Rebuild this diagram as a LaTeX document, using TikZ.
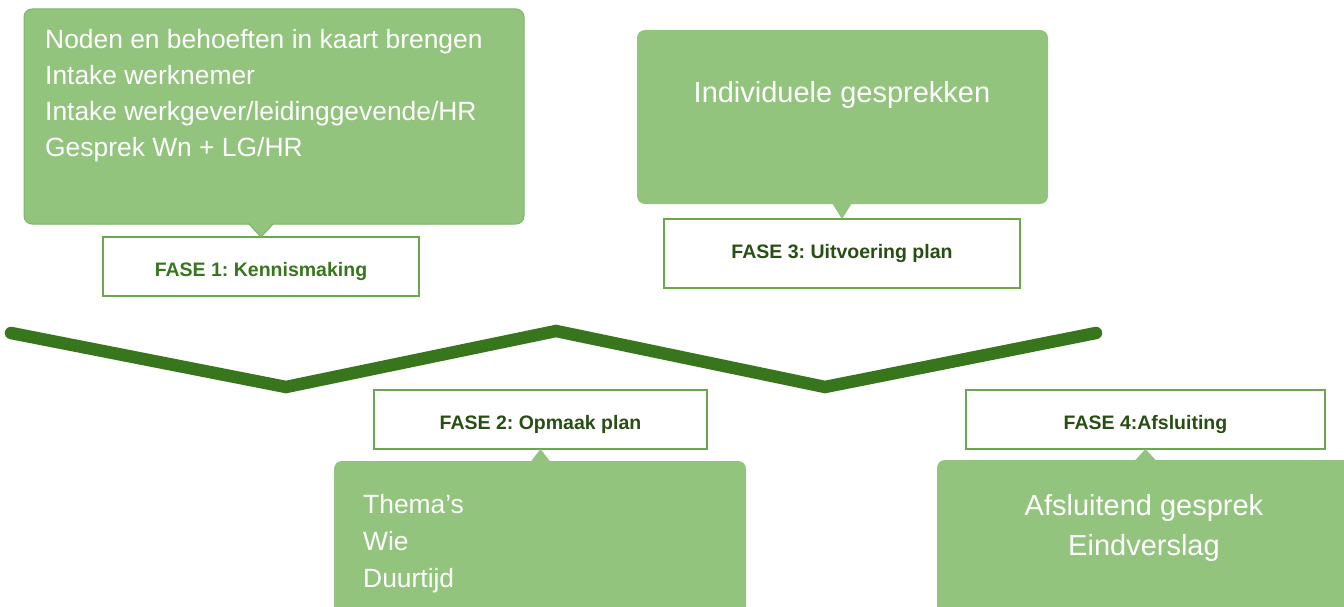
\documentclass[tikz,border=0pt]{standalone}
\usepackage{fontspec}
\setmainfont{Liberation Sans}
\frenchspacing
\definecolor{boxfill}{HTML}{93C47D}
\definecolor{boxedge}{HTML}{7DB667}
\definecolor{faseedge}{HTML}{6AA84F}
\definecolor{zig}{HTML}{38761D}
\definecolor{fasetxtA}{HTML}{38761D}
\definecolor{fasetxt}{HTML}{274E13}
\tikzset{
  callout/.style={fill=boxfill, draw=boxedge, line width=1pt, rounded corners=8pt, inner sep=0pt, outer sep=0pt, anchor=north west},
  fasebox/.style={draw=faseedge, fill=white, line width=1.6pt, inner sep=0pt, outer sep=0pt},
  fasetext/.style={font=\fontsize{19.5}{22}\selectfont\bfseries, text=fasetxt, inner sep=0pt, anchor=base},
  bodytext/.style={font=\fontsize{26.4}{30}\selectfont, text=white, inner sep=0pt, anchor=base west},
  bigtext/.style={font=\fontsize{29}{32}\selectfont, text=white, inner sep=0pt, anchor=base},
  pointer/.style={fill=boxfill}
}
\begin{document}
\begin{tikzpicture}[x=1pt,y=-1pt]
\path[use as bounding box] (0,0) rectangle (1344,607);
\clip (0,0) rectangle (1344,607);
% zigzag
\coordinate (z0) at (11,333);
\coordinate (z1) at (286,387);
\coordinate (z2) at (556,331);
\coordinate (z3) at (825,387);
\coordinate (z4) at (1096,333);
\draw[zig, line width=12.5pt, line cap=round, line join=miter] (z0) -- (z1) -- (z2) -- (z3) -- (z4);
% callout boxes
\node[callout, minimum width=500pt, minimum height=215pt] (c1) at (24,9) {};
\node[callout, draw=none, minimum width=411pt, minimum height=174pt] (c3) at (637,30) {};
\node[callout, draw=none, minimum width=412pt, minimum height=170pt] (c2) at (334,461) {};
\node[callout, draw=none, minimum width=440pt, minimum height=170pt] (c4) at (937,460) {};
% phase boxes
\node[fasebox, minimum width=316pt, minimum height=59pt] (f1) at (261,266.5) {};
\node[fasebox, minimum width=356pt, minimum height=69pt] (f3) at (842,253.5) {};
\node[fasebox, minimum width=333pt, minimum height=59pt] (f2) at (540.5,419.5) {};
\node[fasebox, minimum width=359pt, minimum height=59pt] (f4) at (1145.5,419.5) {};
% pointers
\fill[pointer] (f1.north) -- ++(-13,-14) -- ++(26,0) -- cycle;
\draw[boxedge, line width=1pt] ([xshift=-13pt,yshift=14pt]f1.north) -- (f1.north) -- ([xshift=13pt,yshift=14pt]f1.north);
\fill[pointer] (f3.north) -- ++(-10,-16) -- ++(20,0) -- cycle;
\fill[pointer] (f2.south) -- ++(-10,13) -- ++(20,0) -- cycle;
\fill[pointer] (f4.south) -- ++(-11,12) -- ++(22,0) -- cycle;
% phase labels
\node[fasetext, text=fasetxtA] (l1) at (261,276) {FASE 1: Kennismaking};
\node[fasetext] (l3) at (842,258) {FASE 3: Uitvoering plan};
\node[fasetext] (l2) at (540.5,429) {FASE 2: Opmaak plan};
\node[fasetext] (l4) at (1145.5,429) {FASE 4:Afsluiting};
% box texts
\node[bodytext] (t1a) at (45,49) {Noden en behoeften in kaart brengen};
\node[bodytext] (t1b) at (45,85) {Intake werknemer};
\node[bodytext] (t1c) at (45,121) {Intake werkgever/leidinggevende/HR};
\node[bodytext] (t1d) at (45,157) {Gesprek Wn + LG/HR};
\node[bigtext] (t3) at (842,103) {Individuele gesprekken};
\node[bodytext] (t2a) at (363,513) {Thema’s};
\node[bodytext] (t2b) at (363,550) {Wie};
\node[bodytext] (t2c) at (363,587) {Duurtijd};
\node[bigtext] (t4a) at (1144,515) {Afsluitend gesprek};
\node[bigtext] (t4b) at (1144,555) {Eindverslag};
\end{tikzpicture}
\end{document}
